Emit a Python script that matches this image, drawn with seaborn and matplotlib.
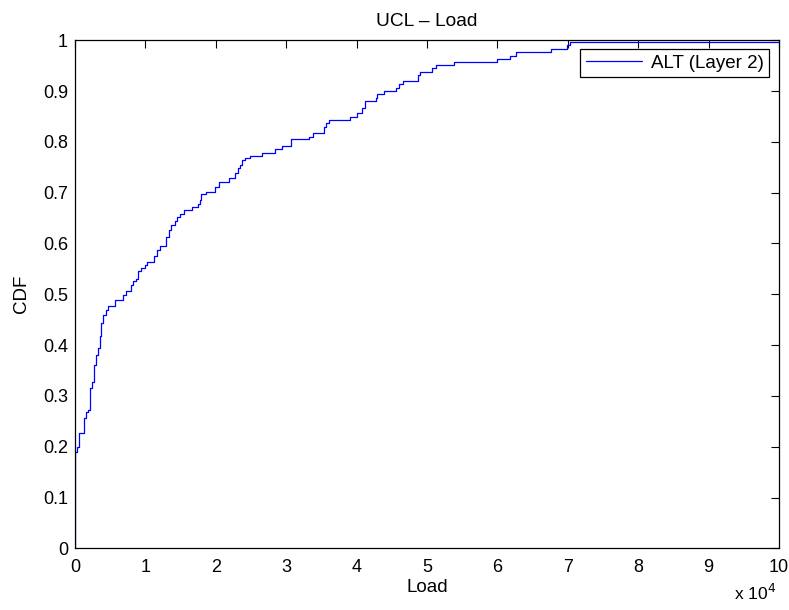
import matplotlib
matplotlib.use("Agg")
import matplotlib.pyplot as plt
import pandas as pd
import seaborn as sns

# Empirical CDF of per-node load: step locations and the CDF level after each step
load = [0, 20, 284, 568, 1236, 1619, 1804, 2088, 2188, 2472, 2656, 3040, 3267,
        3509, 3750, 3977, 4361, 4688, 5739, 6818, 7202, 7912, 8239, 8722, 8949,
        9432, 9901, 10227, 11179, 11648, 12131, 12983, 13352, 13693, 14162,
        14489, 14872, 15440, 16676, 17472, 17813, 17955, 18665, 19844, 20412,
        21832, 22784, 23153, 23494, 23778, 24205, 24915, 26619, 28366, 29403,
        30639, 33239, 33807, 35327, 35710, 36080, 39020, 40057, 40767, 41151,
        42713, 42955, 43892, 45653, 45980, 46591, 48722, 48963, 50767, 51236,
        53892, 59943, 61847, 62599, 67670, 69886, 70369, 100000]
cdf = [0.0, 0.190, 0.200, 0.227, 0.256, 0.269, 0.272, 0.306, 0.316, 0.328,
       0.361, 0.381, 0.394, 0.417, 0.444, 0.459, 0.469, 0.476, 0.489, 0.499,
       0.507, 0.518, 0.526, 0.531, 0.545, 0.551, 0.558, 0.564, 0.575, 0.587,
       0.595, 0.613, 0.627, 0.636, 0.645, 0.653, 0.658, 0.665, 0.672, 0.678,
       0.686, 0.697, 0.702, 0.711, 0.722, 0.728, 0.738, 0.748, 0.755, 0.764,
       0.769, 0.773, 0.779, 0.785, 0.792, 0.805, 0.810, 0.817, 0.829, 0.837,
       0.844, 0.849, 0.856, 0.866, 0.881, 0.887, 0.894, 0.901, 0.907, 0.914,
       0.919, 0.932, 0.938, 0.945, 0.951, 0.957, 0.963, 0.970, 0.976, 0.983,
       0.990, 0.996, 0.996]
series_name = "ALT (Layer 2)"
x_ticks = list(range(0, 100001, 10000))
x_tick_labels = [str(v) for v in range(0, 11)]
y_ticks = [i / 10 for i in range(0, 11)]
y_tick_labels = ["0"] + [f"{v:.1f}" for v in y_ticks[1:-1]] + ["1"]

sns.set_style("white")
plt.rcParams["font.family"] = ["Liberation Sans", "DejaVu Sans"]
plt.rcParams["font.size"] = 13
plt.rcParams["text.color"] = "black"
plt.rcParams["axes.labelcolor"] = "black"

df = pd.DataFrame({"Load": load, "CDF": cdf, "series": series_name})

fig = plt.figure(figsize=(7.89, 6.10), dpi=100)
ax = fig.add_axes([0.0951, 0.1011, 0.8922, 0.8329])

sns.lineplot(data=df, x="Load", y="CDF", hue="series", palette=["#0000ff"],
             drawstyle="steps-post", linewidth=0.9, ax=ax, estimator=None,
             sort=False)

ax.set_xlim(0, 100000)
ax.set_ylim(0, 1)
ax.set_xticks(x_ticks)
ax.set_xticklabels(x_tick_labels)
ax.set_yticks(y_ticks)
ax.set_yticklabels(y_tick_labels)
ax.tick_params(direction="in", length=6, width=0.8, top=True, right=True,
               labelsize=13, colors="black")
ax.tick_params(axis="x", pad=8)
ax.tick_params(axis="y", pad=5)
for s in ax.spines.values():
    s.set_visible(True)
    s.set_color("black")
    s.set_linewidth(0.9)

ax.set_title("UCL \u2013 Load", fontsize=13.8, pad=10, color="black")
ax.set_xlabel("Load", fontsize=13.5, labelpad=2, color="black")
ax.set_ylabel("CDF", fontsize=13.5, labelpad=9, color="black")
ax.text(0.996, -0.088, "x 10$^4$", transform=ax.transAxes, ha="right",
        va="center", fontsize=12.5, color="black")

leg = ax.legend(loc="upper right", bbox_to_anchor=(0.986, 0.983),
                borderaxespad=0, fancybox=False, framealpha=1,
                edgecolor="black", fontsize=13.5, handlelength=3.0,
                borderpad=0.3, handletextpad=0.45)
leg.get_frame().set_linewidth(0.9)
for t in leg.get_texts():
    t.set_color("black")
for h in leg.get_lines():
    h.set_linewidth(0.9)

fig.savefig("out.png", dpi=100, facecolor="white")
